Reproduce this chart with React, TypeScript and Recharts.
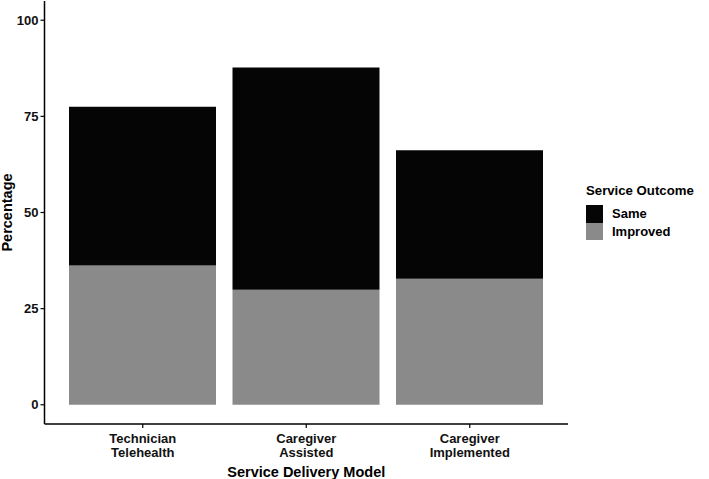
import { BarChart, Bar, XAxis, YAxis } from "recharts";

const models = ["Technician\nTelehealth", "Caregiver\nAssisted", "Caregiver\nImplemented"];
const improved = [36.2, 29.9, 32.8];
const same = [41.3, 57.8, 33.4];
const yTicks = [0, 25, 50, 75, 100];

const outcomes = [
  { key: "same", label: "Same", color: "#050505" },
  { key: "improved", label: "Improved", color: "#8a8a8a" },
];

const data = models.map((m, i) => ({ model: m, improved: improved[i], same: same[i] }));

const font = "'Liberation Sans', Arial, sans-serif";

const XTick = (props: any) => {
  const { x, y, payload } = props;
  const lines = String(payload.value).split("\n");
  return (
    <text x={x} y={y + 13} textAnchor="middle" fontFamily={font} fontWeight="bold" fontSize={13} fill="#111">
      {lines.map((l, i) => (
        <tspan key={i} x={x} dy={i === 0 ? 0 : 14}>
          {l}
        </tspan>
      ))}
    </text>
  );
};

export default function App() {
  return (
    <div style={{ position: "absolute", left: 0, top: 0, width: 709, height: 479, background: "#fff" }}>
      <BarChart
        width={709}
        height={479}
        data={data}
        margin={{ top: 1, right: 141, bottom: 0, left: 0 }}
        barSize={147}
      >
        <XAxis
          dataKey="model"
          height={55}
          padding={{ left: 16.5, right: 16.5 }}
          axisLine={{ stroke: "#000", strokeWidth: 1.5 }}
          tickLine={{ stroke: "#000", strokeWidth: 1.2 }}
          tickSize={4}
          tick={<XTick />}
          interval={0}
          label={{
            value: "Service Delivery Model",
            position: "insideBottom",
            offset: 2,
            fontFamily: font,
            fontWeight: "bold",
            fontSize: 14.5,
            fill: "#000",
          }}
        />
        <YAxis
          width={44.5}
          domain={[-5, 105]}
          ticks={yTicks}
          allowDataOverflow
          axisLine={{ stroke: "#000", strokeWidth: 1.5 }}
          tickLine={{ stroke: "#000", strokeWidth: 1.2 }}
          tickSize={4}
          tick={{ fontFamily: font, fontWeight: "bold", fontSize: 13, fill: "#111" }}
          label={{
            value: "Percentage",
            angle: -90,
            position: "center",
            dx: -15,
            fontFamily: font,
            fontWeight: "bold",
            fontSize: 14.5,
            fill: "#000",
          }}
        />
        <Bar dataKey="improved" stackId="a" fill="#8a8a8a" isAnimationActive={false} />
        <Bar dataKey="same" stackId="a" fill="#050505" isAnimationActive={false} />
      </BarChart>
      <div style={{ position: "absolute", left: 586, top: 182, fontFamily: font, fontWeight: "bold", color: "#000" }}>
        <div style={{ fontSize: 13.2, lineHeight: "18px", marginBottom: 5 }}>Service Outcome</div>
        {outcomes.map((o) => (
          <div key={o.key} style={{ display: "flex", alignItems: "center", height: 17.5 }}>
            <div style={{ width: 17, height: 17.5, background: o.color }} />
            <span style={{ fontSize: 13, marginLeft: 9 }}>{o.label}</span>
          </div>
        ))}
      </div>
    </div>
  );
}
